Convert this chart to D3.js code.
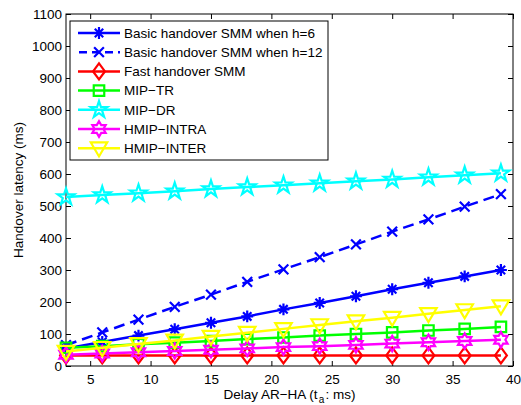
<!DOCTYPE html>
<html><head><meta charset="utf-8">
<script src="https://cdn.jsdelivr.net/npm/d3@7"></script>
<style>body{margin:0;background:#fff}svg{display:block}text{font-family:"Liberation Sans",Arial,Helvetica,sans-serif}</style>
</head><body>
<script>
const delays = [3,6,9,12,15,18,21,24,27,30,33,36,39];
const basicH6 = [55,75,95,115,135,155,177,197,218,240,260,280,300];
const basicH12 = [65,105,145,185,223,263,302,340,380,420,458,498,537];
const fastSMM = [33,33,33,33,33,33,33,33,33,33,33,33,33];
const mipTR = [57,62,68,73,78,84,89,95,100,105,111,116,122];
const mipDR = [528,534,540,546,553,559,565,571,577,583,590,596,602];
const hmipIntra = [35,39,43,47,51,55,59,62,66,70,74,78,82];
const hmipInter = [45,57,69,80,92,104,116,128,140,151,163,175,187];
const xTicks = [5,10,15,20,25,30,35,40];
const yTicks = [0,100,200,300,400,500,600,700,800,900,1000,1100];
const seriesNames = ["Basic handover SMM when h=6","Basic handover SMM when h=12","Fast handover SMM","MIP\u2212TR","MIP\u2212DR","HMIP\u2212INTRA","HMIP\u2212INTER"];
const seriesData = [basicH6, basicH12, fastSMM, mipTR, mipDR, hmipIntra, hmipInter];
const colors = ["#0000ff","#0000ff","#ff0000","#00ff00","#00ffff","#ff00ff","#ffff00"];
const markers = ["asterisk","x","diamond","square","pentagram","hexagram","triangleDown"];
const dashes = [null,"11,6",null,null,null,null,null];

const W=521,H=405, L=66, R=513, T=14, B=366;
const svg=d3.select("body").append("svg").attr("width",W).attr("height",H);
const x=d3.scaleLinear().domain([3,40]).range([L,R]);
const y=d3.scaleLinear().domain([0,1100]).range([B,T]);

const g=svg.append("g");
const fs=13.5;
const ax=g.append("g").attr("transform",`translate(0,${B})`).call(d3.axisBottom(x).tickValues(xTicks).tickSize(-5).tickPadding(8).tickFormat(d3.format("d")));
const axT=g.append("g").attr("transform",`translate(0,${T})`).call(d3.axisTop(x).tickValues(xTicks).tickSize(-5).tickFormat(""));
const ay=g.append("g").attr("transform",`translate(${L},0)`).call(d3.axisLeft(y).tickValues(yTicks).tickSize(-5).tickPadding(4).tickFormat(d3.format("d")));
const ayR=g.append("g").attr("transform",`translate(${R},0)`).call(d3.axisRight(y).tickValues(yTicks).tickSize(-5).tickFormat(""));
[ax,axT,ay,ayR].forEach(a=>{a.select(".domain").remove();a.selectAll("line").attr("stroke","#000");a.selectAll("text").attr("font-size",fs).attr("fill","#000").style("font-family","'Liberation Sans',Arial,sans-serif");});
g.append("rect").attr("x",L).attr("y",T).attr("width",R-L).attr("height",B-T).attr("fill","none").attr("stroke","#000").attr("stroke-width",1);

function markerPath(type,s){
  const r=s/2;
  if(type==="diamond") return `M0,${-r*1.15}L${r*0.85},0L0,${r*1.15}L${-r*0.85},0Z`;
  if(type==="square") return `M${-r*0.75},${-r*0.75}H${r*0.75}V${r*0.75}H${-r*0.75}Z`;
  if(type==="triangleDown"){const h=r*1.1;return `M${-h},${-h*0.7}L${h},${-h*0.7}L0,${h*1.0}Z`;}
  if(type==="x"){const a=r*0.75;return `M${-a},${-a}L${a},${a}M${-a},${a}L${a},${-a}`;}
  if(type==="asterisk"){const a=r*0.85,b=a*0.7071;return `M0,${-a}V${a}M${-a},0H${a}M${-b},${-b}L${b},${b}M${-b},${b}L${b},${-b}`;}
  if(type==="pentagram"){let p=[];const ro=r*1.25,ri=ro*0.382;for(let i=0;i<10;i++){const ang=-Math.PI/2+i*Math.PI/5;const rr=i%2?ri:ro;p.push([rr*Math.cos(ang),rr*Math.sin(ang)]);}return "M"+p.map(q=>q.join(",")).join("L")+"Z";}
  if(type==="hexagram"){let p=[];const ro=r*1.1,ri=ro*0.577;for(let i=0;i<12;i++){const ang=-Math.PI/2+i*Math.PI/6;const rr=i%2?ri:ro;p.push([rr*Math.cos(ang),rr*Math.sin(ang)]);}return "M"+p.map(q=>q.join(",")).join("L")+"Z";}
}
const msize=[14,13,14,14,14,14,15];
const line=d3.line().x((d,i)=>x(delays[i])).y(d=>y(d));
const plot=svg.append("g");
seriesData.forEach((data,k)=>{
  const sg=plot.append("g");
  sg.append("path").datum(data).attr("d",line).attr("fill","none").attr("stroke",colors[k]).attr("stroke-width",2.5).attr("stroke-dasharray",dashes[k]);
  sg.selectAll("path.m").data(data).enter().append("path").attr("class","m")
    .attr("transform",(d,i)=>`translate(${x(delays[i])},${y(d)})`)
    .attr("d",markerPath(markers[k],msize[k])).attr("fill","none").attr("stroke",colors[k]).attr("stroke-width",2.2).attr("stroke-linejoin","miter");
});

const lg=svg.append("g");
lg.append("rect").attr("x",70).attr("y",21).attr("width",258).attr("height",139).attr("fill","#fff").attr("stroke","#000").attr("stroke-width",1);
seriesNames.forEach((name,k)=>{
  const yy=33+k*19.2;
  lg.append("line").attr("x1",78).attr("x2",120).attr("y1",yy).attr("y2",yy).attr("stroke",colors[k]).attr("stroke-width",2.5).attr("stroke-dasharray",dashes[k]?"8,5":null).attr("stroke-dashoffset",dashes[k]?-1:0);
  lg.append("path").attr("transform",`translate(99,${yy})`).attr("d",markerPath(markers[k],msize[k])).attr("fill","none").attr("stroke",colors[k]).attr("stroke-width",2.2);
  lg.append("text").attr("x",124).attr("y",yy).attr("dy","0.35em").attr("font-size",fs).text(name);
});

svg.append("text").attr("transform",`translate(23,${(T+B)/2}) rotate(-90)`).attr("text-anchor","middle").attr("font-size",fs).text("Handover latency (ms)");
const xlParts=[{t:"Delay AR\u2212HA (t",size:fs,dy:0},{t:"a",size:10,dy:4},{t:": ms)",size:fs,dy:0}];
const xlg=svg.append("g");
const pieces=xlParts.map(p=>xlg.append("text").attr("y",399+p.dy).attr("font-size",p.size).text(p.t));
const gap=1.2;
const widths=pieces.map(p=>p.node().getComputedTextLength());
const total=widths.reduce((a,b)=>a+b,0)+gap*2;
let cx=(L+R)/2-total/2;
pieces.forEach((p,i)=>{p.attr("x",cx);cx+=widths[i]+gap;});
</script>
</body></html>
